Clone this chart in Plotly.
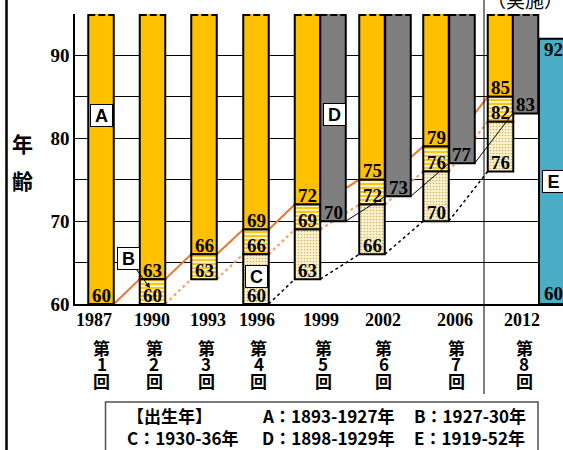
import plotly.graph_objects as go

# ---------------- data ----------------
years = ["1987", "1990", "1993", "1996", "1999", "2002", "2006", "2012"]
rounds = ["1", "2", "3", "4", "5", "6", "7", "8"]
a_base = [60, 63, 66, 69, 72, 75, 79, 85]             # A: born 1893-1927
b_base = [None, 60, 63, 66, 69, 72, 76, 82]           # B: born 1927-30
c_base = [None, None, None, 60, 63, 66, 70, 76]       # C: born 1930-36
d_base = [None, None, None, None, 70, 73, 77, 83]     # D: born 1898-1929
e_range = [60, 92]                                     # E: born 1919-52
y_ticks = [60, 65, 70, 75, 80, 85, 90]
y_ticktext = ["60", "", "70", "", "80", "", "90"]
legend_rows = [["【出生年】", "A：1893-1927年", "B：1927-30年"],
               ["C：1930-36年", "D：1898-1929年", "E：1919-52年"]]
y_cut = 95

# ---------------- layout positions (pixel-like x units) ----------------
W, H = 563, 450
ML, MR, MT, MB = 75, 0, 14, 146
X0, X1 = 75, 563
orange_x = [101, 152.5, 204, 256, 307.5, 372, 436, 500.5]
gray_x = [None, None, None, None, 333, 398, 462, 525.5]
e_x, e_w = 565, 52
BW = 25.5
year_lab_x = [94, 152, 208, 256.5, 321, 383, 455, 522]
round_lab_x = [101.5, 154, 206, 258.5, 323, 383.5, 456, 524]
sep_x = 484

PH = H - MT - MB
PW = W - ML - MR


def px_x(px):
    return (px - ML) / PW


def px_y(py):
    return (H - MB - py) / PH


ORANGE = "#FFC000"
GRAY = "#7F7F7F"
TEAL = "#4BACC6"
SERIF = "Liberation Serif"
GOTH = "Noto Sans CJK JP"
SANS = "Liberation Sans"

fig = go.Figure()
outline = dict(color="black", width=2)

# A segments
fig.add_trace(go.Bar(
    x=orange_x, base=a_base, y=[y_cut + 1 - v for v in a_base], width=BW,
    marker=dict(color=ORANGE, line=outline), hoverinfo="skip"))
# B segments
bx = [orange_x[i] for i in range(8) if b_base[i] is not None]
bb = [b_base[i] for i in range(8) if b_base[i] is not None]
bh = [a_base[i] - b_base[i] for i in range(8) if b_base[i] is not None]
fig.add_trace(go.Bar(
    x=bx, base=bb, y=bh, width=BW,
    marker=dict(color="#FFF3C4", line=outline,
                pattern=dict(shape="-", fgcolor=ORANGE, bgcolor="#FFF3C4",
                             size=4, solidity=0.45, fillmode="replace")),
    hoverinfo="skip"))
# C segments
cx = [orange_x[i] for i in range(8) if c_base[i] is not None]
cb = [c_base[i] for i in range(8) if c_base[i] is not None]
ch = [b_base[i] - c_base[i] for i in range(8) if c_base[i] is not None]
fig.add_trace(go.Bar(
    x=cx, base=cb, y=ch, width=BW,
    marker=dict(color="#FFF4CF", line=outline,
                pattern=dict(shape=".", fgcolor="#C9B56E", bgcolor="#FFF4CF",
                             size=3, solidity=0.25, fillmode="replace")),
    hoverinfo="skip"))
# D segments
dx = [gray_x[i] for i in range(8) if d_base[i] is not None]
db = [d_base[i] for i in range(8) if d_base[i] is not None]
fig.add_trace(go.Bar(
    x=dx, base=db, y=[y_cut + 1 - v for v in db], width=BW,
    marker=dict(color=GRAY, line=outline), hoverinfo="skip"))
# E
fig.add_trace(go.Bar(
    x=[e_x], base=[e_range[0]], y=[e_range[1] - e_range[0]], width=e_w,
    marker=dict(color=TEAL, line=outline), hoverinfo="skip"))

shapes = []


def seg(x0, y0, x1, y1, color, width, dash, layer):
    shapes.append(dict(type="line", xref="x", yref="y", x0=x0, y0=y0, x1=x1, y1=y1,
                       line=dict(color=color, width=width, dash=dash), layer=layer))


for i in range(7):
    seg(orange_x[i] + BW / 2, a_base[i], orange_x[i + 1] - BW / 2, a_base[i + 1],
        "#E8762D", 2, "solid", "between")
    if b_base[i] is not None:
        seg(orange_x[i] + BW / 2, b_base[i], orange_x[i + 1] - BW / 2, b_base[i + 1],
            "#F5A46E", 2.2, "dot", "between")
    if c_base[i] is not None:
        seg(orange_x[i] + BW / 2, c_base[i], orange_x[i + 1] - BW / 2, c_base[i + 1],
            "black", 1.5, "dot", "between")
    if d_base[i] is not None:
        seg(gray_x[i] + BW / 2, d_base[i], gray_x[i + 1] - BW / 2, d_base[i + 1],
            "black", 1, "solid", "above")

# dashed truncated tops
for i in range(8):
    for xc in (orange_x[i], gray_x[i]):
        if xc is not None:
            shapes.append(dict(type="line", xref="x", yref="y", x0=xc - BW / 2, x1=xc + BW / 2,
                               y0=y_cut - 0.12, y1=y_cut - 0.12,
                               line=dict(color="black", width=2, dash="7px,3px"), layer="above"))

# separator line
shapes.append(dict(type="line", xref="x", yref="paper", x0=sep_x, x1=sep_x,
                   y0=px_y(394), y1=px_y(-2), line=dict(color="black", width=1), layer="above"))
# left frame line
shapes.append(dict(type="line", xref="paper", yref="paper", x0=px_x(6.5), x1=px_x(6.5),
                   y0=px_y(455), y1=px_y(-5), line=dict(color="black", width=2.5)))
# legend box
shapes.append(dict(type="rect", xref="paper", yref="paper", x0=px_x(105.5), x1=px_x(538),
                   y0=px_y(460), y1=px_y(402), line=dict(color="#505050", width=1.5),
                   fillcolor="white"))

ann = []
numfont = dict(family=SERIF, size=19, color="black", weight="bold")


def lab(x, v, shift=9):
    ann.append(dict(x=x, y=v, xref="x", yref="y", text=str(v), showarrow=False,
                    xanchor="center", yanchor="middle", yshift=shift, font=numfont))


for i in range(8):
    lab(orange_x[i], a_base[i])
    if b_base[i] is not None:
        lab(orange_x[i], b_base[i])
    if c_base[i] is not None:
        lab(orange_x[i], c_base[i])
    if d_base[i] is not None:
        lab(gray_x[i], d_base[i])
ann.append(dict(x=553.5, y=e_range[1], xref="x", yref="y", text=str(e_range[1]),
                showarrow=False, xanchor="center", yanchor="middle", yshift=-11, font=numfont))
ann.append(dict(x=553.5, y=e_range[0], xref="x", yref="y", text=str(e_range[0]),
                showarrow=False, xanchor="center", yanchor="middle", yshift=11, font=numfont))

# letter boxes
boxfont = dict(family=SANS, size=18, color="black", weight="bold")


def yval(py):
    return 60 + (H - MB - py) / (PH / (y_cut - 60))


def box(text, cx, cy):
    ann.append(dict(x=cx, y=yval(cy), xref="x", yref="y",
                    text=text, showarrow=False, font=boxfont, bgcolor="white",
                    xanchor="center", yanchor="middle",
                    bordercolor="black", borderwidth=1, borderpad=1, width=19, height=19))


box("A", 101.5, 115.5)
box("C", 256.5, 276)
box("D", 334, 114.5)
box("E", 553, 181)
# B with arrow
ann.append(dict(x=150, y=yval(288), xref="x", yref="y",
                text="B", showarrow=True, ax=-21.5, ay=-29.5, arrowhead=2, arrowsize=1,
                arrowwidth=1, arrowcolor="black", font=boxfont, bgcolor="white",
                bordercolor="black", borderwidth=1, borderpad=1, width=19, height=19))

# x labels
for i in range(8):
    ann.append(dict(x=year_lab_x[i], y=px_y(320), xref="x", yref="paper", text=years[i],
                    showarrow=False, xanchor="center", yanchor="middle",
                    font=dict(family=SERIF, size=18, color="black", weight="bold")))
    for k, (ch_, py) in enumerate([("第", 347), (rounds[i], 363.5), ("回", 380)]):
        ann.append(dict(x=round_lab_x[i], y=px_y(py), xref="x", yref="paper", text=ch_,
                        showarrow=False, xanchor="center", yanchor="middle",
                        font=dict(family=GOTH, size=17, color="black", weight="bold")))

# y label
for ch_, py in [("年", 142.5), ("齢", 180)]:
    ann.append(dict(x=px_x(22.5), y=px_y(py), xref="paper", yref="paper", text=ch_,
                    showarrow=False, xanchor="center", yanchor="middle",
                    font=dict(family=GOTH, size=21, color="black", weight="bold")))

# cut title (mostly outside the page, as in the reference)
ann.append(dict(x=524.5, y=px_y(0), xref="x", yref="paper", text="（実施）", showarrow=False,
                xanchor="center", yanchor="middle",
                font=dict(family=GOTH, size=19, color="black")))

# legend texts
leg_x = [125, 260, 412]
leg_y = [415, 437]
for r in range(2):
    for c in range(3):
        ann.append(dict(x=px_x(leg_x[c]), y=px_y(leg_y[r]), xref="paper", yref="paper",
                        xanchor="left", yanchor="middle", text=legend_rows[r][c],
                        showarrow=False,
                        font=dict(family=GOTH, size=17, color="black", weight="bold")))

fig.update_layout(
    width=W, height=H, margin=dict(l=ML, r=MR, t=MT, b=MB),
    paper_bgcolor="white", plot_bgcolor="white",
    barmode="overlay", showlegend=False,
    shapes=shapes, annotations=ann,
    xaxis=dict(range=[X0, X1], showgrid=False, zeroline=False, showticklabels=False,
               showline=True, linecolor="black", linewidth=1.5, ticks=""),
    yaxis=dict(range=[60, y_cut], tickvals=y_ticks, ticktext=y_ticktext,
               showgrid=True, gridcolor="black", gridwidth=1, zeroline=False,
               showline=True, linecolor="black", linewidth=1.5, ticks="",
               tickfont=dict(family=SERIF, size=19, color="black", weight="bold")),
)

fig.write_html("out.html")
